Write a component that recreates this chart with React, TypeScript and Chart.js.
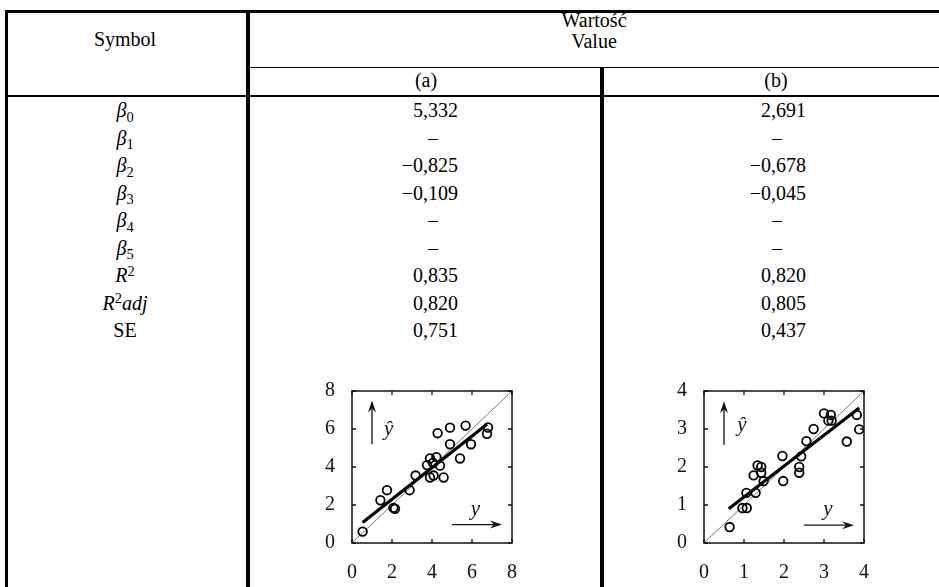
import React, { useEffect, useRef } from "react";
import { Chart, registerables } from "chart.js";

Chart.register(...registerables);

// ---------- table content ----------
const headerSymbol = "Symbol";
const headerTop = "Wartość";
const headerBottom = "Value";
const columnLabels = ["(a)", "(b)"];
const rowSymbols = ["β0", "β1", "β2", "β3", "β4", "β5", "R2", "R2adj", "SE"];
const valuesA = ["5,332", "–", "−0,825", "−0,109", "–", "–", "0,835", "0,820", "0,751"];
const valuesB = ["2,691", "–", "−0,678", "−0,045", "–", "–", "0,820", "0,805", "0,437"];

// ---------- plot (a): observed y vs predicted ŷ ----------
const observedA = [0.53, 1.42, 1.75, 2.07, 2.15, 2.88, 3.18, 3.75, 3.9, 4.05, 4.22, 4.4, 3.9, 4.08, 4.58, 4.28, 4.9, 4.9, 5.4, 5.68, 5.95, 6.75, 6.8];
const predictedA = [0.6, 2.25, 2.78, 1.85, 1.8, 2.78, 3.55, 4.1, 4.45, 4.22, 4.52, 4.07, 3.45, 3.55, 3.45, 5.78, 6.07, 5.2, 4.45, 6.18, 5.2, 5.75, 6.08];
const fitXA = [0.53, 6.75];
const fitYA = [1.08, 6.25];
const diagA = [0, 8];
const ticksA = [0, 2, 4, 6, 8];
const yHatArrowA = [1.0, 5.2, 1.0, 7.5];
const yArrowA = [5.0, 0.97, 7.5, 0.97];
const yHatLabelA = [1.83, 6.0];
const yLabelA = [6.17, 1.75];

// ---------- plot (b) ----------
const observedB = [0.64, 0.96, 1.07, 1.06, 1.29, 1.24, 1.34, 1.43, 1.43, 1.49, 1.96, 1.98, 2.38, 2.38, 2.43, 2.56, 2.74, 3.0, 3.17, 3.11, 3.19, 3.82, 3.88, 3.57];
const predictedB = [0.42, 0.92, 0.92, 1.32, 1.32, 1.78, 2.04, 2.0, 1.85, 1.63, 2.29, 1.63, 2.0, 1.85, 2.28, 2.68, 3.0, 3.41, 3.37, 3.22, 3.22, 3.37, 2.99, 2.67];
const fitXB = [0.62, 3.88];
const fitYB = [0.9, 3.55];
const diagB = [0, 4];
const ticksB = [0, 1, 2, 3, 4];
const yHatArrowB = [0.5, 2.58, 0.5, 3.73];
const yArrowB = [2.5, 0.47, 3.75, 0.47];
const yHatLabelB = [0.95, 3.08];
const yLabelB = [3.1, 0.88];

const SERIF = '"Liberation Serif", "DejaVu Serif", "Noto Serif", serif';

type PlotCfg = {
  obs: number[];
  pred: number[];
  fitX: number[];
  fitY: number[];
  diag: number[];
  ticks: number[];
  yHatArrow: number[];
  yArrow: number[];
  yHatLabel: number[];
  yLabel: number[];
};

function makeDecor(cfg: PlotCfg) {
  return {
    id: "decor",
    afterDatasetsDraw(chart: any) {
      const { ctx, chartArea: a, scales } = chart;
      const xs = scales.x;
      const ys = scales.y;
      const X = (v: number) => xs.getPixelForValue(v);
      const Y = (v: number) => ys.getPixelForValue(v);
      ctx.save();
      ctx.strokeStyle = "#111";
      ctx.fillStyle = "#111";
      ctx.lineWidth = 1.3;
      ctx.beginPath();
      cfg.ticks.forEach((v) => {
        const px = X(v);
        const py = Y(v);
        ctx.moveTo(px, a.bottom);
        ctx.lineTo(px, a.bottom - 4);
        ctx.moveTo(px, a.top);
        ctx.lineTo(px, a.top + 4);
        ctx.moveTo(a.left, py);
        ctx.lineTo(a.left + 4, py);
        ctx.moveTo(a.right, py);
        ctx.lineTo(a.right - 4, py);
      });
      ctx.stroke();
      ctx.lineWidth = 1.5;
      ctx.strokeRect(a.left, a.top, a.right - a.left, a.bottom - a.top);
      const arrow = (d: number[]) => {
        const x1 = X(d[0]), y1 = Y(d[1]), x2 = X(d[2]), y2 = Y(d[3]);
        const ang = Math.atan2(y2 - y1, x2 - x1);
        const len = 12, hw = 4;
        const bx = x2 - Math.cos(ang) * len;
        const by = y2 - Math.sin(ang) * len;
        ctx.lineWidth = 1.3;
        ctx.beginPath();
        ctx.moveTo(x1, y1);
        ctx.lineTo(bx + Math.cos(ang) * 4, by + Math.sin(ang) * 4);
        ctx.stroke();
        ctx.beginPath();
        ctx.moveTo(x2, y2);
        ctx.lineTo(bx - Math.sin(ang) * hw, by + Math.cos(ang) * hw);
        ctx.lineTo(x2 - Math.cos(ang) * (len - 4), y2 - Math.sin(ang) * (len - 4));
        ctx.lineTo(bx + Math.sin(ang) * hw, by - Math.cos(ang) * hw);
        ctx.closePath();
        ctx.fill();
      };
      arrow(cfg.yHatArrow);
      arrow(cfg.yArrow);
      ctx.font = `italic 21px ${SERIF}`;
      ctx.textAlign = "center";
      ctx.textBaseline = "middle";
      ctx.fillText("ŷ", X(cfg.yHatLabel[0]), Y(cfg.yHatLabel[1]));
      ctx.fillText("y", X(cfg.yLabel[0]), Y(cfg.yLabel[1]));
      ctx.restore();
    },
  };
}

function ScatterPlot({ cfg, left, top }: { cfg: PlotCfg; left: number; top: number }) {
  const ref = useRef<HTMLCanvasElement | null>(null);
  useEffect(() => {
    if (!ref.current) return;
    const max = cfg.ticks[cfg.ticks.length - 1];
    const min = cfg.ticks[0];
    const font = { family: SERIF, size: 20 };
    const chart = new Chart(ref.current, {
      type: "scatter",
      data: {
        datasets: [
          {
            data: cfg.fitX.map((x, i) => ({ x, y: cfg.fitY[i] })),
            showLine: true,
            borderColor: "#000",
            borderWidth: 3.2,
            pointRadius: 0,
            order: 1,
          },
          {
            data: cfg.obs.map((x, i) => ({ x, y: cfg.pred[i] })),
            pointStyle: "circle",
            pointRadius: 4.3,
            pointBorderWidth: 1.8,
            pointBorderColor: "#000",
            pointBackgroundColor: "rgba(0,0,0,0)",
            borderColor: "#000",
            backgroundColor: "rgba(0,0,0,0)",
            order: 2,
          },
          {
            data: cfg.diag.map((v) => ({ x: v, y: v })),
            showLine: true,
            borderColor: "#555",
            borderWidth: 0.8,
            pointRadius: 0,
            order: 3,
          },
        ],
      },
      options: {
        responsive: false,
        animation: false,
        events: [],
        layout: { padding: { left: 0, right: 18, top: 12, bottom: 0 } },
        plugins: { legend: { display: false }, tooltip: { enabled: false } },
        scales: {
          x: {
            type: "linear",
            min,
            max,
            afterBuildTicks: (s: any) => {
              s.ticks = cfg.ticks.map((v) => ({ value: v }));
            },
            afterFit: (s: any) => {
              s.height = 42;
            },
            ticks: { font, color: "#111", padding: 10, maxRotation: 0, autoSkip: false },
            grid: { display: false },
            border: { display: false },
          },
          y: {
            type: "linear",
            min,
            max,
            afterBuildTicks: (s: any) => {
              s.ticks = cfg.ticks.map((v) => ({ value: v }));
            },
            afterFit: (s: any) => {
              s.width = 62;
            },
            ticks: { font, color: "#111", padding: 9, autoSkip: false },
            grid: { display: false },
            border: { display: false },
          },
        },
      },
      plugins: [makeDecor(cfg)],
    } as any);
    return () => chart.destroy();
  }, [cfg]);
  return (
    <canvas
      ref={ref}
      width={240}
      height={215}
      style={{ position: "absolute", left, top, width: 240, height: 215 }}
    />
  );
}

const cfgA: PlotCfg = {
  obs: observedA, pred: predictedA, fitX: fitXA, fitY: fitYA, diag: diagA, ticks: ticksA,
  yHatArrow: yHatArrowA, yArrow: yArrowA, yHatLabel: yHatLabelA, yLabel: yLabelA,
};
const cfgB: PlotCfg = {
  obs: observedB, pred: predictedB, fitX: fitXB, fitY: fitYB, diag: diagB, ticks: ticksB,
  yHatArrow: yHatArrowB, yArrow: yArrowB, yHatLabel: yHatLabelB, yLabel: yLabelB,
};

const subStyle: React.CSSProperties = { fontSize: "0.72em", position: "relative", top: "0.32em", fontStyle: "normal" };
const supStyle: React.CSSProperties = { fontSize: "0.72em", position: "relative", top: "-0.45em", fontStyle: "normal" };

function renderSymbol(s: string) {
  if (s.startsWith("β")) {
    return (
      <>
        <i>β</i>
        <span style={subStyle}>{s.slice(1)}</span>
      </>
    );
  }
  if (s.startsWith("R2")) {
    return (
      <>
        <i>R</i>
        <span style={supStyle}>2</span>
        {s.length > 2 ? <i>{s.slice(2)}</i> : null}
      </>
    );
  }
  return s;
}

function Centered({ cx, cy, children }: { cx: number; cy: number; children: React.ReactNode }) {
  return (
    <div
      style={{
        position: "absolute",
        left: cx - 150,
        width: 300,
        top: cy - 14,
        height: 28,
        lineHeight: "28px",
        textAlign: "center",
        whiteSpace: "nowrap",
      }}
    >
      {children}
    </div>
  );
}

function RightAligned({ rx, cy, children }: { rx: number; cy: number; children: React.ReactNode }) {
  return (
    <div
      style={{
        position: "absolute",
        left: rx - 200,
        width: 200,
        top: cy - 14,
        height: 28,
        lineHeight: "28px",
        textAlign: "right",
        whiteSpace: "nowrap",
      }}
    >
      {children}
    </div>
  );
}

function Line({ l, t, w, h }: { l: number; t: number; w: number; h: number }) {
  return <div style={{ position: "absolute", left: l, top: t, width: w, height: h, background: "#000" }} />;
}

export default function App() {
  const rowY = (i: number) => 110 + 27.5 * i;
  const valueCell = (v: string, rx: number, dashX: number, i: number) =>
    v === "–" ? (
      <Centered key={`${rx}-${i}`} cx={dashX} cy={rowY(i)}>
        {v}
      </Centered>
    ) : (
      <RightAligned key={`${rx}-${i}`} rx={rx} cy={rowY(i)}>
        {v}
      </RightAligned>
    );
  return (
    <div
      style={{
        position: "absolute",
        left: 0,
        top: 0,
        width: 939,
        height: 587,
        overflow: "hidden",
        background: "#fff",
        color: "#000",
        fontFamily: SERIF,
        fontSize: 20,
      }}
    >
      <Line l={5} t={10} w={940} h={2.7} />
      <Line l={248} t={67} w={700} h={1.4} />
      <Line l={5} t={95} w={940} h={2.4} />
      <Line l={5} t={10} w={3} h={600} />
      <Line l={246} t={10} w={3.5} h={600} />
      <Line l={600} t={67} w={3.5} h={600} />

      <Centered cx={125} cy={39}>{headerSymbol}</Centered>
      <Centered cx={594} cy={20}>{headerTop}</Centered>
      <Centered cx={594} cy={41}>{headerBottom}</Centered>
      <Centered cx={426} cy={80}>{columnLabels[0]}</Centered>
      <Centered cx={776} cy={80}>{columnLabels[1]}</Centered>

      {rowSymbols.map((s, i) => (
        <Centered key={s} cx={125} cy={rowY(i)}>
          {renderSymbol(s)}
        </Centered>
      ))}
      {valuesA.map((v, i) => valueCell(v, 458, 433, i))}
      {valuesB.map((v, i) => valueCell(v, 806, 777, i))}

      <ScatterPlot cfg={cfgA} left={290} top={370} />
      <ScatterPlot cfg={cfgB} left={642} top={370} />
    </div>
  );
}
